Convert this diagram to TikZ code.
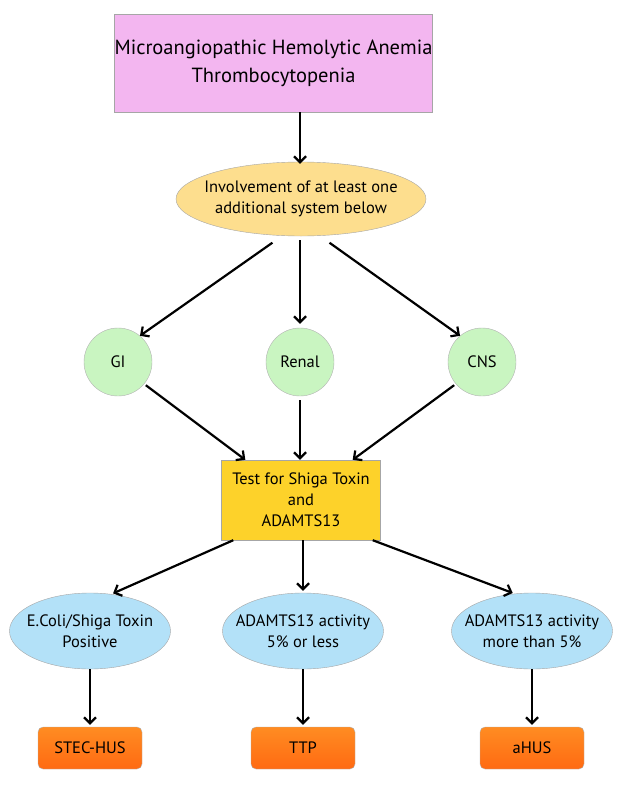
\documentclass[tikz,border=0pt]{standalone}
\usepackage{fontspec}
\setmainfont{PT Sans}
\usetikzlibrary{shapes.geometric,arrows.meta}
\definecolor{pinkf}{HTML}{F3B6F0}
\definecolor{orel}{HTML}{FDDE8E}
\definecolor{greenf}{HTML}{C9F5C1}
\definecolor{goldf}{HTML}{FDD22A}
\definecolor{bluef}{HTML}{B3E1F8}
\definecolor{orT}{HTML}{FF8C22}
\definecolor{orB}{HTML}{FF6A12}
\begin{document}
\begin{tikzpicture}[x=1pt,y=-1pt,
  every node/.style={align=center,font=\fontsize{16.5}{21}\selectfont,text=black},
  arr/.style={-{Straight Barb[length=6pt,width=12pt]},line width=2.2pt},
  ell/.style={ellipse,draw=gray!70,fill=bluef,minimum width=161pt,minimum height=76pt,inner sep=0pt},
  circ/.style={circle,draw=gray!60,fill=greenf,minimum size=68pt,inner sep=0pt},
  res/.style={rectangle,rounded corners=5pt,draw=gray!60,top color=orT,bottom color=orB,minimum width=104pt,minimum height=42pt}]
\useasboundingbox (0,0) rectangle (622,803);
\node[draw=gray!70,fill=pinkf,minimum width=309pt,minimum height=98pt,inner sep=0pt,font=\fontsize{20.5}{28}\selectfont] (top) at (273.5,63) {Microangiopathic Hemolytic Anemia\\Thrombocytopenia};
\node[ellipse,draw=gray!70,fill=orel,minimum width=250pt,minimum height=74pt,inner sep=0pt] (inv) at (301,199) {};
\node (invt) at (inv.center) {Involvement of at least one\\additional system below};
\node[circ] (gi) at (118,362) {GI};
\node[circ] (ren) at (300,362) {Renal};
\node[circ] (cns) at (482,362) {CNS};
\node[draw=gray!70,fill=goldf,minimum width=159pt,minimum height=80pt,inner sep=0pt] (test) at (301,500) {Test for Shiga Toxin\\and\\ADAMTS13};
\node[ell] (e1) at (90,631) {};
\node[ell] (e2) at (303,631) {};
\node[ell] (e3) at (532,631) {};
\node (e1t) at (e1.center) {E.Coli/Shiga Toxin\\Positive};
\node (e2t) at (e2.center) {ADAMTS13 activity\\5\% or less};
\node (e3t) at (e3.center) {ADAMTS13 activity\\more than 5\%};
\node[res] (r1) at (90,748) {STEC-HUS};
\node[res] (r2) at (303,748) {TTP};
\node[res] (r3) at (532,748) {aHUS};
\draw[arr] (top.south -| 300,0) -- ([yshift=-2pt]inv.north -| 300,0);
\draw[arr,shorten <=12pt] (inv.243) -- (gi.50);
\draw[arr,shorten <=4pt,shorten >=4pt] (inv.south -| 300,0) -- (ren.north);
\draw[arr,shorten <=12pt] (inv.297) -- (cns.130);
\draw[arr,shorten <=2pt] (gi.-40) -- ([xshift=24pt]test.north west);
\draw[arr,shorten <=4pt] (ren.south) -- (test.north -| ren);
\draw[arr,shorten <=2pt] (cns.220) -- ([xshift=-28pt]test.north east);
\draw[arr,shorten >=2pt] ([xshift=12pt]test.south west) -- (e1.60);
\draw[arr,shorten >=2pt] (test.south -| e2) -- (e2.north);
\draw[arr,shorten >=2pt] ([xshift=-8pt]test.south east) -- (e3.115);
\draw[arr,shorten >=2pt] (e1.south) -- (r1.north);
\draw[arr,shorten >=2pt] (e2.south) -- (r2.north);
\draw[arr,shorten >=2pt] (e3.south) -- (r3.north);
\end{tikzpicture}
\end{document}
